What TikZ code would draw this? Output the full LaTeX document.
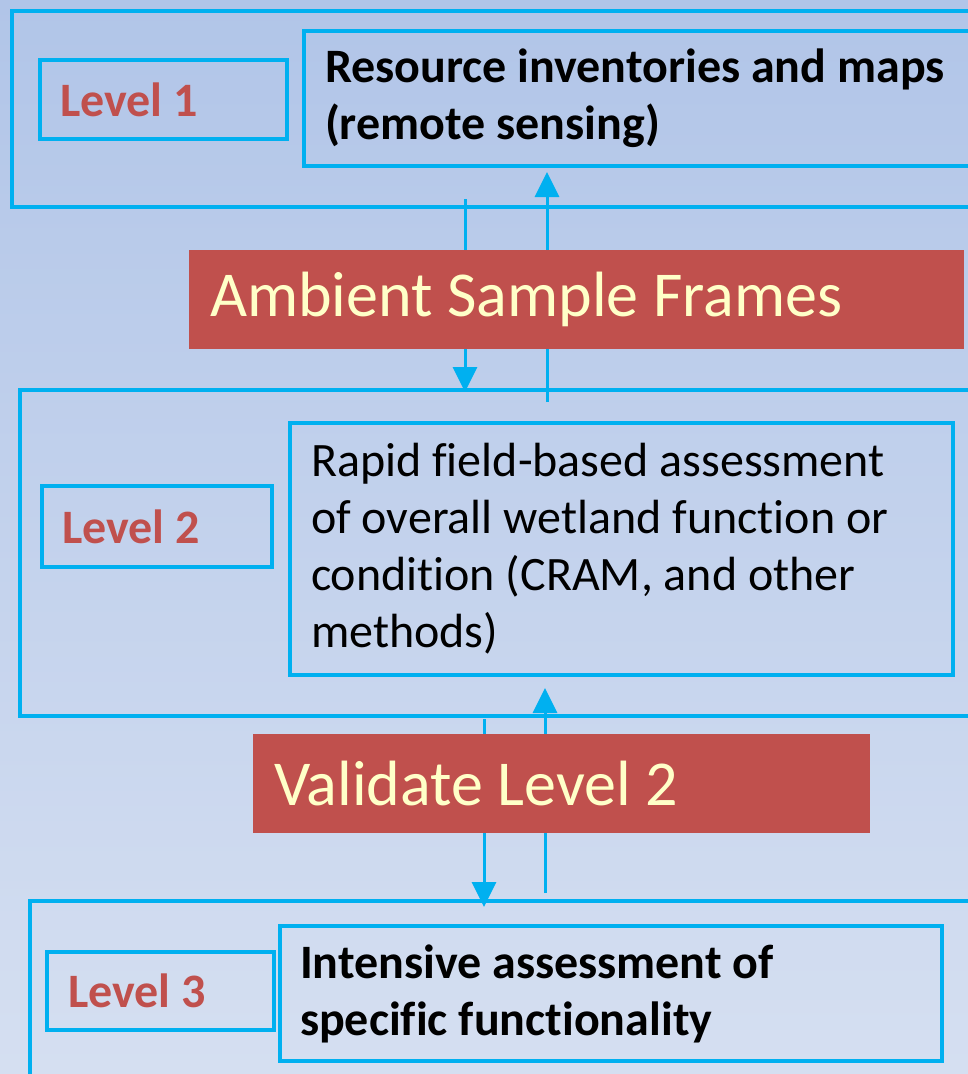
\documentclass[tikz,border=0pt]{standalone}
\usepackage{fontspec}
\setmainfont{Carlito}[Ligatures={NoCommon,NoRequired,NoContextual},RawFeature={-liga;-clig;-dlig;-calt;-rlig}]
\usetikzlibrary{arrows.meta,positioning}
\definecolor{sky}{HTML}{00B0F0}
\definecolor{brick}{HTML}{C0504D}
\definecolor{cream}{HTML}{FFFFC8}
\definecolor{bgtop}{HTML}{B1C5E8}
\definecolor{bgbot}{HTML}{D5DFF1}
\begin{document}
\begin{tikzpicture}[x=1pt,y=-1pt,line join=miter,>={Triangle[length=25pt,width=24pt]},
  frame/.style={draw=sky,line width=4pt},
  lvlbox/.style={frame,anchor=north west,inner xsep=20pt,inner ysep=4pt,align=flush left,text=brick,font=\fontsize{48}{57}\selectfont\bfseries},
  infobox/.style={frame,anchor=north west,inner xsep=20pt,inner ysep=4pt,align=flush left,font=\fontsize{48}{57}\selectfont},
  banner/.style={fill=brick,anchor=north west,inner xsep=21pt,inner ysep=4pt,align=flush left,text=cream,font=\fontsize{64}{70}\selectfont},
  flow/.style={draw=sky,line width=3pt,->}]
\clip (0,0) rectangle (968,1074);
\shade[top color=bgtop,bottom color=bgbot] (0,0) rectangle (968,1074);

\draw[frame] (12,11) rectangle (1000,207);
\draw[frame] (20,390) rectangle (1000,716);
\draw[frame] (30,901) rectangle (1000,1100);

\node[lvlbox,text width=207pt,minimum height=79pt] (lvone) at (38,58) {Level 1};
\node[infobox,font=\fontsize{48}{57}\selectfont\bfseries,inner xsep=21pt,text width=658pt,minimum height=135pt] (remote) at (302,29) {Resource inventories and maps\\(remote sensing)};

\node[lvlbox,text width=190pt,minimum height=81pt] (lvtwo) at (40,484) {Level 2};
\node[infobox,inner xsep=21pt,text width=621pt,minimum height=252pt] (rapid) at (288,421) {Rapid field-based assessment\\of overall wetland function or\\condition (CRAM, and other\\methods)};

\node[lvlbox,inner xsep=21pt,text width=185pt,minimum height=78pt] (lvthree) at (45,950) {Level 3};
\node[infobox,font=\fontsize{48}{57}\selectfont\bfseries,text width=622pt,minimum height=135pt] (intense) at (278,924) {Intensive assessment of\\specific functionality};

\coordinate (dnA) at (465,199);
\coordinate (dnB) at (465,392);
\coordinate (upA) at (547,402);
\coordinate (upB) at (547,172);
\coordinate (dnC) at (484,719);
\coordinate (dnD) at (484,907);
\coordinate (upC) at (545,893);
\coordinate (upD) at (545,688);
\draw[flow] (dnA)--(dnB);
\draw[flow] (upA)--(upB);
\draw[flow] (dnC)--(dnD);
\draw[flow] (upC)--(upD);

\node[banner,text width=733pt,minimum height=99pt] (ambient) at (189,250) {Ambient Sample Frames};
\node[banner,text width=575pt,minimum height=99pt] (validate) at (253,734) {Validate Level 2};
\end{tikzpicture}
\end{document}
